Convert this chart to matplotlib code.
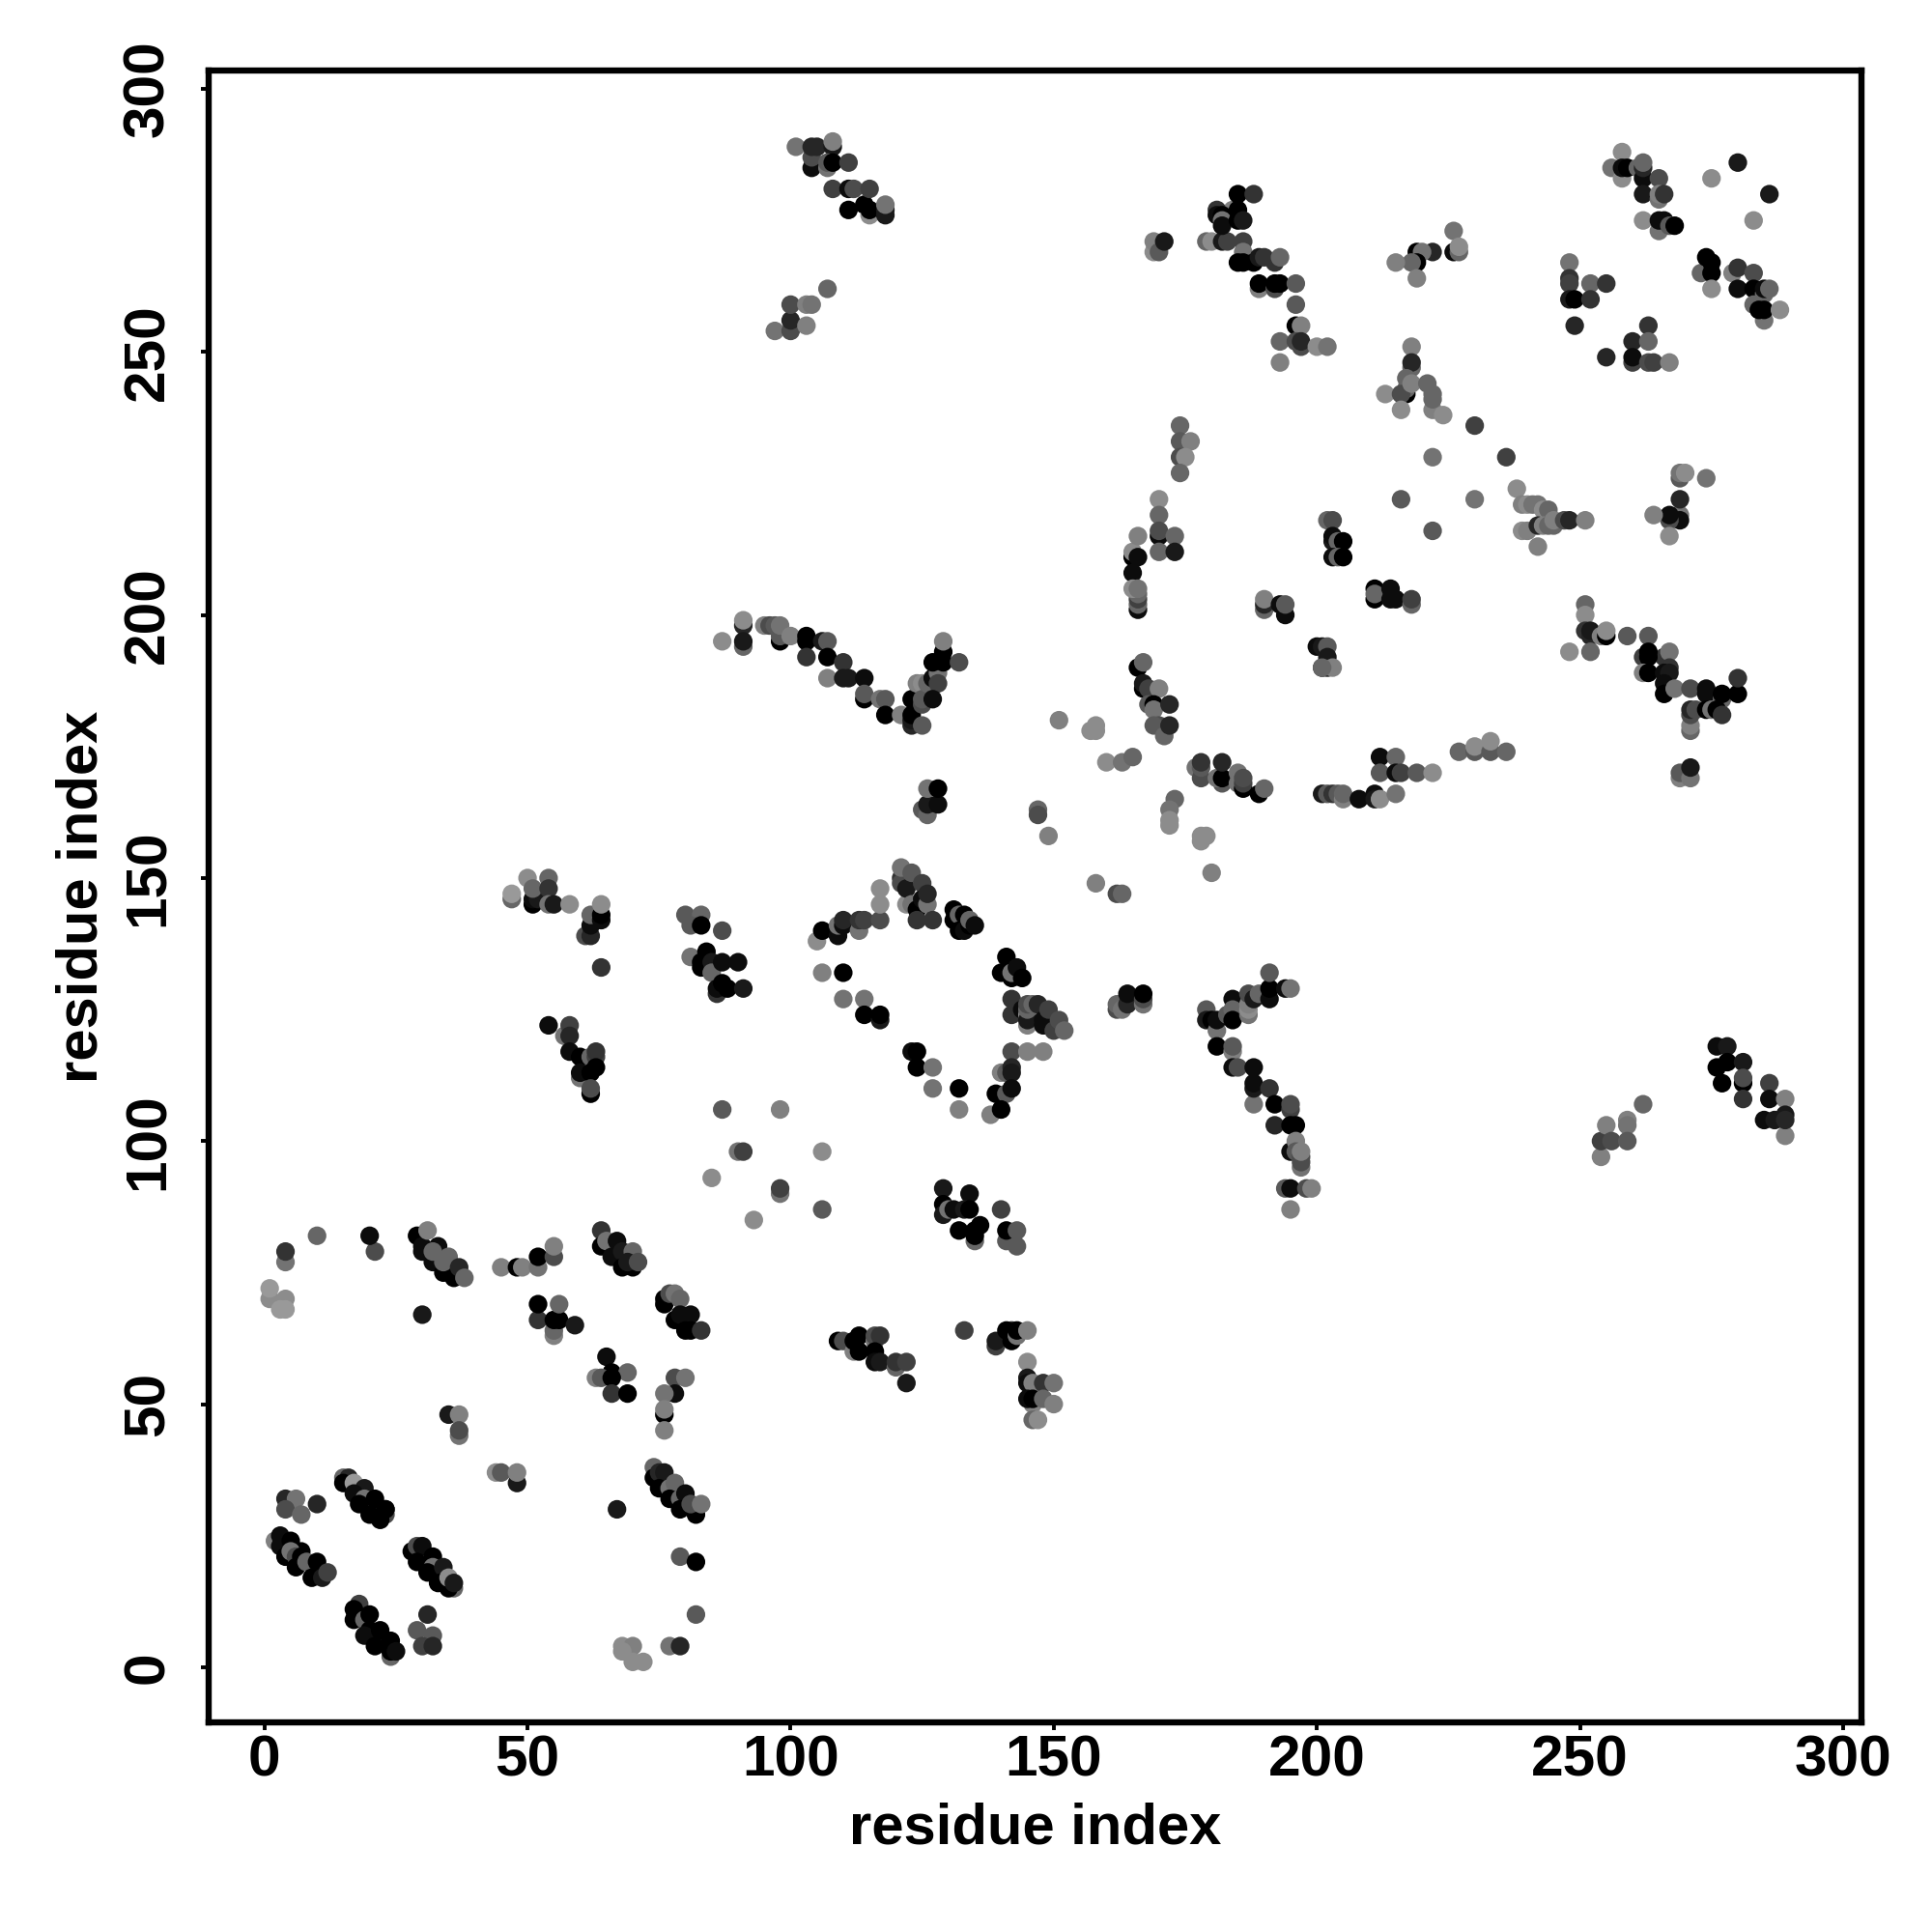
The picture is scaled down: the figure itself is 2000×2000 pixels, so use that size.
import matplotlib
matplotlib.use('Agg')
import matplotlib.pyplot as plt

# contact map points: (residue i, residue j, score) - score is the grey level
bottom_left = [
    (2,24,.5),(3,25,.05),(3,23,.05),(5,24,0),(4,21,0),(7,22,0),(5,22,.45),(6,21,.3),(7,21,0),(6,19,0),(8,20,.4),(10,20,0),(9,17,0),(11,17,.1),(12,18,.25),
    (4,32,.15),(6,32,.45),(4,30,.3),(7,29,.4),(10,31,.15),
    (15,36,.4),(16,36,.15),(15,35,0),(17,35,.6),(19,34,.1),(17,33,.05),(19,32,.45),(21,32,0),(18,31,0),(23,30,0),(20,29,0),(23,29,.3),(22,28,0),(23,30,0),
    (18,12,.25),(17,11,0),(17,9,0),(19,9,.4),(20,10,0),(20,7,0),(19,6,.05),(22,7,0),(24,2,.4),(21,4,0),(24,5,0),(24,3,0),(25,3,.05),
    (31,10,.15),(29,7,.35),(32,6,.35),(30,4,.25),(32,4,.15),
    (28,22,0),(29,23,.3),(30,23,.05),(29,20,0),(32,21,0),(32,19,.45),(31,18,0),(34,19,.1),(33,16,0),(36,15,.4),(35,15,0),(35,17,.55),(36,16,.1),
    (44,37,.55),(45,37,.35),(48,35,.1),(48,37,.5),(35,48,.1),(37,48,.5),(37,44,.45),(37,45,.3),(67,30,.1),
    (74,38,.4),(74,36,0),(75,37,.15),(76,37,.1),(75,34,0),(77,34,.45),(78,35,.4),(77,32,0),(79,32,.4),(80,33,.05),(79,30,0),(82,29,0),(81,31,.3),(83,31,.45),
    (79,21,.35),(82,20,0),(82,10,.35),(68,4,.55),(70,4,.5),(68,3,.55),(70,1,.55),(72,1,.55),(77,4,.45),(79,4,.15),
]
lower_middle = [
    (4,77,.45),(4,79,.2),(10,82,.4),(21,79,.3),(20,82,.05),(1,70,.55),(1,72,.6),(4,70,.55),(3,68,.6),(4,68,.6),(30,67,.1),
    (29,82,0),(30,80,.05),(30,79,.05),(32,77,.05),(34,75,0),(36,74,0),(33,80,.05),(31,83,.5),(32,79,.4),(35,78,.4),(34,77,.4),(37,76,.15),(38,74,.4),
    (45,76,.5),(48,76,0),(49,76,.5),(52,76,.45),(52,78,0),(55,78,.3),(55,80,.5),
    (52,66,.2),(52,69,0),(55,63,.5),(55,64,.4),(55,66,0),(56,66,0),(56,69,.4),(59,65,.1),
    (64,83,.2),(64,80,0),(65,81,.45),(67,81,.05),(66,78,.05),(68,79,.1),(70,79,.4),(68,76,0),(70,76,0),(69,77,.1),(71,77,.3),
    (76,69,0),(76,70,0),(77,71,.3),(78,71,.45),(79,70,.4),(78,66,0),(79,67,.05),(81,67,.05),(80,64,0),(81,64,0),(83,64,.2),
    (65,59,.05),(66,56,0),(69,56,.4),(63,55,.5),(64,55,.35),(66,55,0),(66,52,.2),(69,52,0),
    (78,55,.3),(80,55,.45),(78,52,.05),(76,52,.45),(76,48,0),(76,49,.5),(76,45,.5),
    (129,91,.1),(134,90,.05),(129,88,0),(129,86,.1),(130,87,.45),(131,87,.05),(133,87,.1),(134,87,0),(135,81,.4),(132,83,0),(135,82,0),(135,83,0),(136,84,0),
    (140,87,.25),(141,81,.35),(143,80,.35),(141,83,0),(143,83,.35),
    (109,62,0),(110,62,.3),(112,60,.5),(113,63,0),(112,62,0),(113,60,0),(116,62,.45),(116,63,.3),(117,63,.2),(116,60,0),(116,58,.05),(117,58,.1),(120,57,.4),(120,58,.2),(122,58,.25),(122,54,.1),
    (133,64,.25),(139,61,.25),(139,62,.1),(142,64,.2),(141,64,0),(142,62,0),(143,63,.45),(143,64,0),(145,64,.5),
    (145,58,.55),(145,55,.1),(145,54,.05),(146,54,.5),(148,54,.2),(150,54,.45),(146,50,.5),(145,51,.05),(146,51,0),(148,51,.4),(150,50,.5),(146,47,.4),(147,47,.55),
    (87,106,.35),(98,106,.5),(90,98,.45),(91,98,.25),(106,98,.55),(85,93,.55),(98,90,.45),(98,91,.25),(106,87,.35),(93,85,.55),
]
central = [
    (47,146,.4),(47,147,.6),(50,150,.55),(54,150,.4),(51,145,0),(51,146,.05),(52,146,.1),(51,148,.4),(54,148,.2),(54,145,.45),(55,145,.1),(58,145,.55),
    (61,139,.3),(62,139,.15),(62,141,.05),(62,143,.4),(64,142,.05),(64,143,0),(64,145,.55),(64,133,.2),
    (80,143,.35),(83,143,.4),(81,141,.35),(83,141,0),(87,140,.3),
    (81,135,.45),(84,136,0),(83,134,0),(83,133,0),(85,134,.1),(85,132,.4),(87,134,.05),(90,134,.05),(86,128,.2),(86,129,.05),(87,130,0),(88,129,0),(91,129,.1),
    (54,122,.05),(57,120,.45),(58,122,.25),(58,120,.15),(58,117,.05),(60,116,0),(62,116,.4),(63,116,.25),(63,117,.2),(60,112,.45),(60,113,.05),(63,114,0),(62,113,0),(62,109,0),(62,110,.3),
    (105,138,.55),(106,140,0),(109,139,.05),(109,141,.45),(110,141,.05),(110,142,.15),(113,140,.45),(113,142,.2),(114,142,.25),(117,142,.3),(117,145,.55),(117,148,.55),
    (121,150,.2),(121,149,.3),(121,152,.45),(122,145,.55),(122,148,.1),(123,151,.35),(123,145,.45),(124,144,0),(125,149,.25),(125,146,.05),(126,145,.45),(126,147,.15),(124,142,.2),(127,142,.2),
    (131,144,0),(131,142,0),(132,143,.4),(133,143,0),(132,140,0),(133,140,.05),(134,141,0),(134,142,.4),(135,141,.05),
    (141,135,0),(140,132,0),(142,131,0),(142,132,.45),(143,133,.05),(144,131,0),
    (142,127,.2),(142,124,.2),(144,125,.05),(145,124,.55),(145,122,.5),(145,123,.1),(145,125,.4),(145,126,.3),(146,126,.4),(147,126,.15),(148,123,.05),(148,122,.05),(149,125,.25),(150,121,.25),(151,123,.3),(152,121,.4),
    (106,132,.5),(110,132,0),(110,127,.45),(114,127,.45),(114,124,0),(117,123,.1),(117,124,0),(123,117,.05),(124,117,0),(124,114,0),(127,114,.45),(127,110,.45),(132,110,0),(132,106,.5),
    (142,117,.3),(145,117,.5),(148,117,.5),(140,113,.5),(141,113,.35),(142,114,.15),(142,113,.1),(139,109,0),(141,109,.35),(142,110,.05),(138,105,.5),(140,106,0),
    (125,163,.35),(126,162,.4),(126,164,.1),(128,164,.05),(126,167,.45),(128,167,0),
    (147,163,.4),(147,162,.3),(149,158,.5),(158,149,.5),(162,147,.3),(163,147,.4),
    (162,125,.3),(162,126,.4),(163,125,.45),(164,126,.15),(164,128,.05),(167,126,.45),(167,127,.3),(167,128,0),
]
arc_200 = [
    (87,195,.55),(91,198,.15),(91,199,.55),(91,194,.4),(91,195,.1),(95,198,.5),(96,198,.3),(97,198,.35),(98,195,0),(98,196,.35),(98,198,.45),(100,196,.5),
    (103,196,0),(103,195,0),(103,192,.2),(106,195,.1),(107,195,.35),(107,192,0),(110,191,.2),(107,188,.5),(110,188,.1),(111,188,.1),(114,188,.05),(114,184,0),(114,185,.35),(117,184,.45),(118,184,.35),(118,181,0),(121,181,.5),
    (123,179,.15),(123,180,.1),(123,184,0),(123,181,0),(125,179,.35),(124,187,.5),(125,187,.55),(125,183,.3),(125,184,.35),(126,187,.4),(127,188,.05),(128,189,.45),(128,187,.25),(127,184,.05),(127,191,0),(129,193,0),(129,191,0),(129,195,.5),(132,191,.3),
    (166,190,0),(167,191,.4),(167,186,0),(167,187,.1),(168,186,.25),(170,186,.5),(168,183,.35),(169,183,0),(169,182,.45),(172,183,.15),(170,179,.3),(169,179,.35),(171,177,.4),(172,179,.15),
    (151,180,.5),(157,178,.55),(158,179,.55),(158,178,.55),(160,172,.55),(163,172,.45),(165,173,.4),
    (177,171,.45),(178,169,.3),(178,171,.35),(178,172,.2),(182,168,.35),(181,169,.45),(182,169,0),(182,172,.15),(185,170,.45),(185,168,.45),(186,167,0),(186,168,.25),(186,169,.3),(189,166,0),(190,167,.4),
    (173,165,.4),(172,163,.45),(172,160,.55),(172,161,.55),(178,157,.55),(179,158,.55),(178,158,.55),(180,151,.5),
    (200,194,.05),(201,194,.1),(202,194,.35),(202,192,.1),(201,190,.05),(202,190,.1),(203,190,.5),(201,190,.4),
    (201,166,.1),(202,166,.35),(203,166,.2),(204,166,.35),(205,165,.5),(205,166,.4),(208,165,.05),(211,166,.05),(211,165,.1),(212,165,.55),(215,166,.45),
    (212,173,.05),(215,173,.4),(212,170,.35),(215,170,.05),(216,170,.25),(219,170,.35),(222,170,.55),
    (227,174,.4),(230,174,.35),(230,175,.55),(233,174,.35),(233,176,.55),(236,174,.4),
    (179,125,.35),(179,123,.1),(180,123,0),(181,121,.45),(181,123,.05),(181,118,0),(183,124,.35),(184,127,.05),(184,125,.4),(184,123,0),(187,124,.45),(187,125,.55),(187,126,.5),(187,128,.3),(188,127,.1),
    (189,128,.4),(191,127,.05),(191,129,0),(191,132,.35),(194,129,.05),(195,129,.45),
    (184,117,.5),(184,118,.35),(184,114,.05),(185,114,.3),(188,114,.05),(188,107,.45),(188,110,.1),(188,111,.05),(191,110,.2),(192,107,0),(195,106,.25),(195,107,.3),(192,103,.15),(195,103,0),(196,103,0),
    (195,98,.05),(196,100,.5),(196,98,.35),(197,95,.45),(197,96,.3),(197,97,.3),(197,98,.5),(194,91,.35),(195,91,.05),(198,91,.3),(199,91,.5),(195,87,.5),
]
upper_left = [
    (101,289,.45),(104,285,.05),(104,287,.3),(104,289,.15),(105,289,.15),(108,289,.1),(108,290,.5),(107,285,.45),(107,286,.35),(108,286,0),(111,286,.25),
    (108,281,.25),(111,281,.05),(111,277,0),(112,281,.3),(114,278,0),(115,276,.55),(115,277,0),(115,281,.25),(118,276,.1),(118,277,.1),(118,278,.45),
    (97,254,.45),(100,254,.3),(100,256,.15),(100,259,.3),(103,255,.5),(103,259,.5),(104,259,.45),(107,262,.4),
    (169,269,.55),(169,271,.5),(170,269,.35),(171,271,.1),
    (179,271,.4),(180,271,.55),(182,271,.1),(183,271,.25),(186,271,.25),(184,277,.5),(181,277,.2),(181,276,.05),(182,276,0),(182,275,.45),(182,274,.05),
    (185,280,0),(188,280,.2),(185,277,0),(185,275,0),(186,275,.1),
    (186,269,.45),(185,267,0),(186,267,0),(188,267,0),(189,268,.1),(190,268,.2),(192,267,.2),(193,268,.4),(189,262,.5),(189,263,0),(192,262,.3),(192,263,0),(193,263,0),(196,263,.35),(196,259,.35),
    (196,255,0),(197,255,.5),(193,252,.4),(196,252,.3),(197,251,.3),(197,252,.15),(200,251,.55),(202,251,.45),(193,248,.5),
    (165,211,0),(165,212,.55),(166,211,.05),(166,215,.5),(165,208,.05),(166,201,.05),(166,202,.4),(166,203,.25),(166,204,.4),(165,205,.55),(166,205,.45),
    (170,222,.55),(170,219,.4),(170,215,.05),(170,216,.3),(170,212,.4),(173,215,.4),(173,212,.1),
    (174,236,.4),(174,233,.35),(176,233,.5),(174,230,.3),(175,230,.55),(174,227,.4),
]
upper_right = [
    (226,273,.45),(226,269,.05),(227,269,.4),(227,270,.55),(222,269,.15),(219,269,0),(220,269,.45),(219,267,0),(218,267,.4),(215,267,.5),(219,264,.5),
    (248,267,.45),(248,264,.2),(248,263,.25),(252,263,.4),(255,263,.2),(248,260,.1),(249,260,0),(252,260,.2),(249,255,.15),(255,249,.15),(260,252,.15),(263,255,.2),(263,252,.4),(260,248,.25),(260,249,.05),(263,248,.3),(264,248,.25),(267,248,.5),
    (258,288,.55),(256,285,.45),(258,283,.55),(258,285,.05),(259,285,0),(261,285,.4),(262,283,.05),(262,285,.15),(262,286,.4),(265,283,.3),(262,280,.1),(265,279,.45),(265,280,.5),(266,280,.2),
    (262,275,.55),(265,273,.45),(265,275,.05),(266,275,.05),(267,274,.35),(268,274,0),
    (280,286,.1),(275,283,.55),(286,280,.1),(283,275,.55),
    (273,265,.4),(274,268,0),(275,267,0),(275,265,0),(275,262,.55),(279,265,.5),(280,266,.2),(283,265,.3),(280,262,.05),(283,262,0),(285,261,.4),(285,262,.05),(286,262,.4),(283,259,.4),(285,256,.45),(284,258,0),(285,258,0),(288,258,.55),
    (218,251,.5),(218,247,.4),(218,248,.15),(217,245,.4),(217,242,0),(217,243,.4),(213,242,.55),(216,242,.3),(216,239,.55),(218,244,.5),(221,244,.4),(222,239,.5),(222,241,.4),(222,242,.4),(224,238,.55),
    (230,236,.25),(222,230,.45),(236,230,.25),(216,222,.35),(230,222,.45),(222,216,.35),
    (238,224,.55),(239,221,.5),(240,221,.55),(241,221,.45),(242,221,.45),(243,220,.55),(244,220,.4),(239,216,.55),(240,216,.5),(242,213,.5),(242,217,.15),(243,217,.5),(244,217,.4),(245,217,.4),(245,218,.5),(247,218,.3),(248,218,.15),(251,218,.5),
    (269,219,.45),(269,218,.05),(269,222,.15),(269,226,.35),(269,227,.45),(270,227,.55),(274,226,.45),(267,218,.3),(267,219,.05),(264,219,.5),(267,215,.55),
    (211,205,0),(211,203,0),(211,204,.4),(214,205,.05),(214,203,.05),(215,203,.05),(218,202,.4),(218,203,.25),
    (202,218,.4),(203,218,.3),(203,214,.1),(203,215,.05),(204,214,.4),(205,214,0),(203,211,.05),(204,211,.4),(205,211,0),
    (190,201,.4),(190,202,.15),(190,203,.5),(193,202,.05),(194,200,.05),(194,202,.35),
    (251,202,.4),(251,200,.55),(251,197,.2),(252,196,.15),(252,197,.1),(254,196,.5),(255,196,0),(255,197,.55),(259,196,.35),(263,196,.35),(248,193,.55),(252,193,.4),
    (266,192,.2),(262,192,.25),(263,193,0),(263,192,0),(267,193,.45),(262,189,.5),(263,189,0),(267,190,.2),(266,189,.05),(267,189,.1),(266,187,.05),(266,185,0),(268,186,.45),
    (271,186,.3),(274,186,.05),(274,185,.05),(277,184,.4),(277,185,0),(280,185,0),(280,188,.2),(271,178,.4),(271,179,.5),(271,181,.3),(271,182,.15),(272,182,.3),(274,182,0),(275,182,.45),(276,182,0),(277,181,.2),
    (269,169,.5),(269,170,.35),(271,169,.45),(271,171,.1),
    (276,118,.05),(278,118,.1),(276,114,0),(278,115,0),(281,115,.1),(277,111,0),(281,111,0),(281,112,.3),(281,108,.2),(286,111,.25),(286,108,.05),(289,108,.5),(285,104,.05),(287,104,.1),(289,101,.5),(289,105,.1),(289,104,.15),
    (254,97,.5),(254,100,.25),(255,103,.5),(256,100,.3),(259,104,.5),(259,103,.45),(259,100,.35),(262,107,.4),
]

x_ticks = [0, 50, 100, 150, 200, 250, 300]
y_ticks = [0, 50, 100, 150, 200, 250, 300]

plt.rcParams['font.family'] = ['Liberation Sans', 'DejaVu Sans']
plt.rcParams['font.weight'] = 'bold'

contacts = bottom_left + lower_middle + central + arc_200 + upper_left + upper_right
res_i = [c[0] for c in contacts]
res_j = [c[1] for c in contacts]
score = [c[2] for c in contacts]

fig = plt.figure(figsize=(20, 20), dpi=100)
ax = fig.add_axes([216 / 2000, 1 - 1783 / 2000, (1927 - 216) / 2000, (1783 - 73) / 2000])
ax.scatter(res_i, res_j, c=score, cmap='gray', vmin=0, vmax=1, s=192, linewidths=0)

ax.set_xlim(-10.6, 303.5)
ax.set_ylim(-10.5, 303.5)
ax.set_xticks(x_ticks)
ax.set_yticks(y_ticks)
ax.tick_params(axis='x', length=6, width=2.8, labelsize=43.5, pad=3)
ax.tick_params(axis='y', length=6, width=2.8, labelsize=43.5, pad=19)
for lab in ax.get_yticklabels():
    lab.set_rotation(90)
    lab.set_va('center')
for s in ax.spines.values():
    s.set_linewidth(4.6)

ax.set_xlabel('residue index', fontsize=43, fontweight='bold', labelpad=11)
ax.set_ylabel('residue index', fontsize=43, fontweight='bold', labelpad=10)

fig.savefig('out.png', dpi=100)
